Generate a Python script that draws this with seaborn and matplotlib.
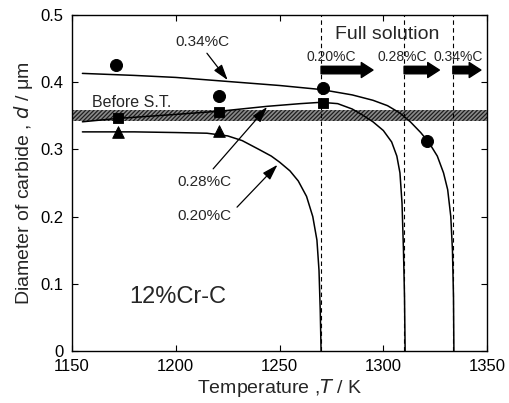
import matplotlib
matplotlib.use("Agg")
import matplotlib.pyplot as plt
import seaborn as sns
import pandas as pd

# ---- data ----
# measured points
circle_T = [1171, 1221, 1271, 1321]
circle_d = [0.425, 0.379, 0.391, 0.312]
square_T = [1172, 1221, 1271]
square_d = [0.346, 0.355, 0.369]
triangle_T = [1172, 1221]
triangle_d = [0.326, 0.327]

# calculated curves
c020_T = [1155, 1180, 1200, 1215, 1225, 1232, 1240, 1246, 1250, 1255, 1259, 1263, 1266, 1268, 1269, 1269.6, 1270]
c020_d = [0.326, 0.326, 0.325, 0.324, 0.320, 0.313, 0.300, 0.290, 0.281, 0.268, 0.253, 0.230, 0.200, 0.165, 0.120, 0.060, 0.0]
c028_T = [1155, 1172, 1200, 1222, 1244, 1260, 1270, 1278, 1285, 1290, 1295, 1300, 1304, 1306.5, 1308, 1309, 1309.7, 1310.2, 1310.5]
c028_d = [0.341, 0.346, 0.352, 0.357, 0.364, 0.368, 0.370, 0.368, 0.360, 0.351, 0.341, 0.328, 0.311, 0.290, 0.265, 0.220, 0.150, 0.080, 0.0]
c034_T = [1155, 1180, 1200, 1225, 1250, 1270, 1285, 1295, 1302, 1308, 1313, 1318, 1322, 1326, 1329, 1331, 1332.5, 1333.3, 1333.8, 1334]
c034_d = [0.413, 0.410, 0.407, 0.401, 0.395, 0.389, 0.381, 0.373, 0.365, 0.354, 0.341, 0.325, 0.310, 0.290, 0.265, 0.240, 0.200, 0.150, 0.080, 0.0]

# full-solution temperatures
full_T = [1270, 1310, 1333.5]
full_labels = ["0.20%C", "0.28%C", "0.34%C"]
band = [0.342, 0.358]  # before solution treatment

x_ticks = [1150, 1200, 1250, 1300, 1350]
y_ticks = [0, 0.1, 0.2, 0.3, 0.4, 0.5]
y_ticklabels = ["0", "0.1", "0.2", "0.3", "0.4", "0.5"]

sns.set_theme(style="ticks")
plt.rcParams["font.family"] = ["Liberation Sans", "DejaVu Sans"]
plt.rcParams["hatch.linewidth"] = 0.9
plt.rcParams["hatch.color"] = "#1e1e1e"

fig = plt.figure(figsize=(5.09, 4.03), dpi=100)
ax = fig.add_axes([0.1415, 0.129, 0.8155, 0.834])

# hatched band
ax.axhspan(band[0], band[1], facecolor="#8a8a8a", edgecolor="#1e1e1e", hatch="////////", linewidth=0, zorder=1)

# dashed vertical lines
for t in full_T:
    ax.plot([t, t], [0, 0.5], ls=(0, (4, 3)), color="black", lw=0.8, zorder=2)

curves = pd.concat([
    pd.DataFrame({"T": c020_T, "d": c020_d, "c": "0.20"}),
    pd.DataFrame({"T": c028_T, "d": c028_d, "c": "0.28"}),
    pd.DataFrame({"T": c034_T, "d": c034_d, "c": "0.34"}),
])
sns.lineplot(data=curves, x="T", y="d", units="c", estimator=None, sort=False,
             color="black", lw=1.1, ax=ax, zorder=3)

sns.scatterplot(x=circle_T, y=circle_d, marker="o", s=75, color="black", edgecolor="black", ax=ax, zorder=4)
sns.scatterplot(x=square_T, y=square_d, marker="s", s=60, color="black", edgecolor="black", ax=ax, zorder=4)
sns.scatterplot(x=triangle_T, y=triangle_d, marker="^", s=70, color="black", edgecolor="black", ax=ax, zorder=4)

# thick arrows (full solution)
arrow_ends = [1295, 1327, 1347]
for t, e in zip(full_T, arrow_ends):
    ax.annotate("", xy=(e, 0.418), xytext=(t, 0.418),
                arrowprops=dict(arrowstyle="simple,head_length=0.7,head_width=0.9,tail_width=0.45",
                                color="black", shrinkA=0, shrinkB=0), zorder=5)
ax.text(1275, 0.437, full_labels[0], fontsize=10, ha="center", va="center")
ax.text(1309, 0.437, full_labels[1], fontsize=10, ha="center", va="center")
ax.text(1336, 0.437, full_labels[2], fontsize=10, ha="center", va="center")
ax.text(1302, 0.471, "Full solution", fontsize=14, ha="center", va="center")

# curve annotations
arrowkw = dict(arrowstyle="-|>,head_length=0.8,head_width=0.25", color="black", lw=0.9, shrinkA=0, shrinkB=0)
ax.annotate("", xy=(1225, 0.403), xytext=(1215, 0.443), arrowprops=arrowkw)
ax.text(1213, 0.459, "0.34%C", fontsize=11, ha="center", va="center")
ax.annotate("", xy=(1244, 0.363), xytext=(1218, 0.271), arrowprops=arrowkw)
ax.text(1214, 0.252, "0.28%C", fontsize=11, ha="center", va="center")
ax.annotate("", xy=(1249, 0.277), xytext=(1229.5, 0.214), arrowprops=arrowkw)
ax.text(1214, 0.201, "0.20%C", fontsize=11, ha="center", va="center")
ax.text(1159.5, 0.370, "Before S.T.", fontsize=11.5, ha="left", va="center")
ax.text(1201, 0.081, "12%Cr-C", fontsize=17, ha="center", va="center")

ax.set_xlim(1150, 1350)
ax.set_ylim(0, 0.5)
ax.set_xticks(x_ticks)
ax.set_yticks(y_ticks)
ax.set_yticklabels(y_ticklabels)
ax.tick_params(direction="in", top=True, right=True, length=4, width=0.8,
               labelsize=12, colors="black", pad=6)
for s in ax.spines.values():
    s.set_color("black")
    s.set_linewidth(1.0)
ax.set_xlabel("Temperature ,$\\mathit{T}$ / K", fontsize=14, labelpad=2)
ax.set_ylabel("Diameter of carbide , $\\mathit{d}$ / μm", fontsize=14, labelpad=4)

fig.savefig("out.png", dpi=100)
